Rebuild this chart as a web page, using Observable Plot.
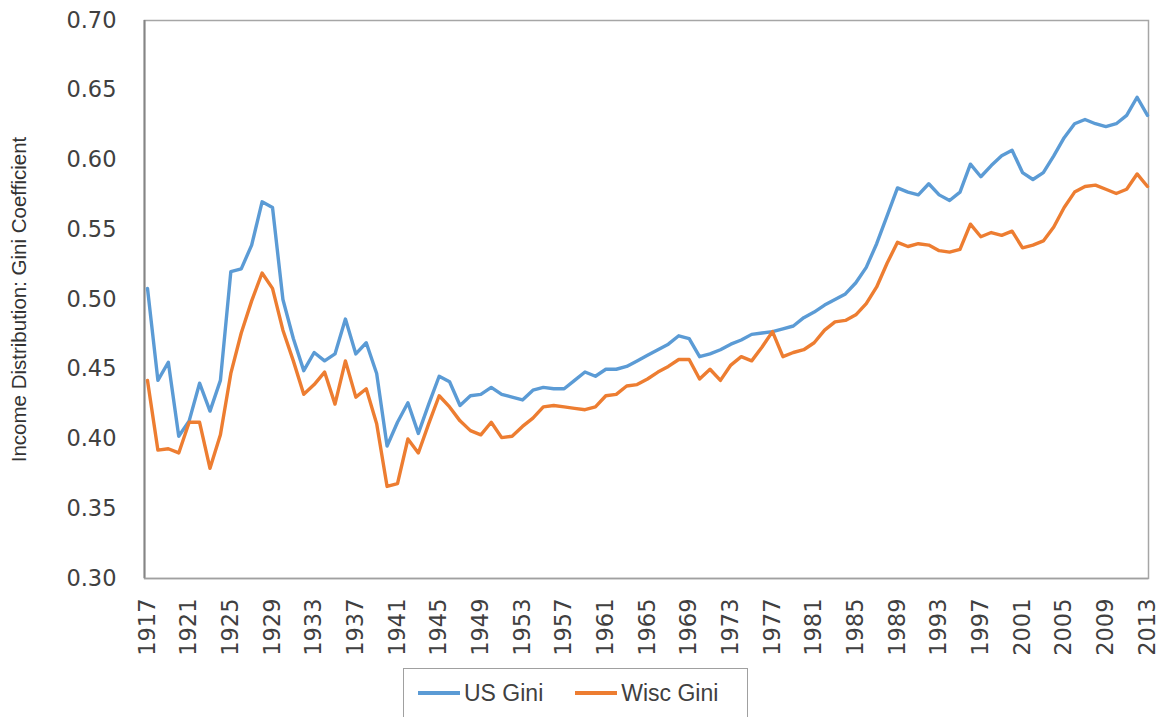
<!DOCTYPE html>
<html>
<head>
<meta charset="utf-8">
<script src="https://cdn.jsdelivr.net/npm/d3@7"></script>
<script src="https://cdn.jsdelivr.net/npm/@observablehq/plot@0.6"></script>
<style>
  html, body { margin: 0; padding: 0; background: #fff; }
  #wrap { position: relative; width: 1159px; height: 717px; overflow: hidden; }
  #legend {
    position: absolute; left: 403px; top: 668px; width: 345px; height: 56px;
    border: 1.5px solid #a0a0a0; box-sizing: border-box;
    font-family: "Liberation Sans", Arial, sans-serif; font-size: 23px; color: #404040;
    display: flex; align-items: center; padding-left: 14px; padding-bottom: 6px;
    white-space: nowrap;
  }
  .item { display: flex; align-items: center; margin-right: 32px; white-space: nowrap; flex: none; }
  .sw { width: 42px; height: 4px; margin-right: 4px; flex: none; }
</style>
</head>
<body>
<div id="wrap">
  <div id="chart"></div>
  <div id="legend"></div>
</div>
<script>
const years = d3.range(1917, 2014);

const usGini = [
  0.508, 0.442, 0.455, 0.402, 0.413, 0.440, 0.420, 0.442, 0.520, 0.522,
  0.539, 0.570, 0.566, 0.500, 0.472, 0.449, 0.462, 0.456, 0.461, 0.486,
  0.461, 0.469, 0.447, 0.395, 0.412, 0.426, 0.404, 0.425, 0.445, 0.441,
  0.424, 0.431, 0.432, 0.437, 0.432, 0.430, 0.428, 0.435, 0.437, 0.436,
  0.436, 0.442, 0.448, 0.445, 0.450, 0.450, 0.452, 0.456, 0.460, 0.464,
  0.468, 0.474, 0.472, 0.459, 0.461, 0.464, 0.468, 0.471, 0.475, 0.476,
  0.477, 0.479, 0.481, 0.487, 0.491, 0.496, 0.500, 0.504, 0.512, 0.523,
  0.540, 0.560, 0.580, 0.577, 0.575, 0.583, 0.575, 0.571, 0.577, 0.597,
  0.588, 0.596, 0.603, 0.607, 0.591, 0.586, 0.591, 0.603, 0.616, 0.626,
  0.629, 0.626, 0.624, 0.626, 0.632, 0.645, 0.632
];

const wiscGini = [
  0.442, 0.392, 0.393, 0.390, 0.412, 0.412, 0.379, 0.403, 0.447, 0.476,
  0.499, 0.519, 0.508, 0.478, 0.456, 0.432, 0.439, 0.448, 0.425, 0.456,
  0.430, 0.436, 0.411, 0.366, 0.368, 0.400, 0.390, 0.411, 0.431, 0.423,
  0.413, 0.406, 0.403, 0.412, 0.401, 0.402, 0.409, 0.415, 0.423, 0.424,
  0.423, 0.422, 0.421, 0.423, 0.431, 0.432, 0.438, 0.439, 0.443, 0.448,
  0.452, 0.457, 0.457, 0.443, 0.450, 0.442, 0.453, 0.459, 0.456, 0.466,
  0.477, 0.459, 0.462, 0.464, 0.469, 0.478, 0.484, 0.485, 0.489, 0.497,
  0.509, 0.526, 0.541, 0.538, 0.540, 0.539, 0.535, 0.534, 0.536, 0.554,
  0.545, 0.548, 0.546, 0.549, 0.537, 0.539, 0.542, 0.552, 0.566, 0.577,
  0.581, 0.582, 0.579, 0.576, 0.579, 0.590, 0.581
];

const seriesNames = ["US Gini", "Wisc Gini"];
const seriesColors = ["#5B9BD5", "#ED7D31"];
const xTicks = [1917, 1921, 1925, 1929, 1933, 1937, 1941, 1945, 1949, 1953, 1957, 1961, 1965,
                1969, 1973, 1977, 1981, 1985, 1989, 1993, 1997, 2001, 2005, 2009, 2013];
const yTicks = [0.30, 0.35, 0.40, 0.45, 0.50, 0.55, 0.60, 0.65, 0.70];
const yLabel = "Income Distribution: Gini Coefficient";

const rows = [];
years.forEach((yr, i) => {
  rows.push({year: yr, value: usGini[i], series: seriesNames[0]});
  rows.push({year: yr, value: wiscGini[i], series: seriesNames[1]});
});

const chart = Plot.plot({
  width: 1159,
  height: 665,
  marginLeft: 144,
  marginRight: 11,
  marginTop: 20,
  marginBottom: 87,
  style: {fontFamily: "'DejaVu Sans', sans-serif", color: "#404040", background: "#fff"},
  x: {domain: [1917, 2013], insetLeft: 3, insetRight: 1},
  y: {domain: [0.30, 0.70]},
  color: {domain: seriesNames, range: seriesColors},
  marks: [
    Plot.frame({stroke: "#a6a6a6", strokeWidth: 1.5}),
    Plot.ruleX([1917], {y1: 0.30, y2: 0.70, dx: -3, stroke: "#858585", strokeWidth: 2}),
    Plot.ruleY([0.30], {stroke: "#a0a0a0", strokeWidth: 1.5}),
    Plot.axisY({ticks: yTicks, tickFormat: d3.format(".2f"), tickSize: 0, tickPadding: 28,
                fontSize: 22.5, label: null}),
    Plot.axisX({ticks: xTicks, tickFormat: d => String(d), tickSize: 0, tickPadding: 20,
                tickRotate: -90, fontSize: 22.5, label: null}),
    Plot.text([yLabel], {text: d => d, frameAnchor: "left", dx: -125, rotate: -90,
                textAnchor: "middle", fontSize: 20.5,
                fontFamily: "'Liberation Sans', Arial, sans-serif", fill: "#333"}),
    Plot.line(rows, {x: "year", y: "value", stroke: "series", strokeWidth: 3.4,
                strokeLinejoin: "round", strokeLinecap: "round"})
  ]
});
document.getElementById("chart").appendChild(chart);

const legend = document.getElementById("legend");
seriesNames.forEach((name, i) => {
  const item = document.createElement("div");
  item.className = "item";
  const sw = document.createElement("div");
  sw.className = "sw";
  sw.style.background = seriesColors[i];
  const label = document.createElement("span");
  label.textContent = name;
  item.appendChild(sw);
  item.appendChild(label);
  legend.appendChild(item);
});
</script>
</body>
</html>
